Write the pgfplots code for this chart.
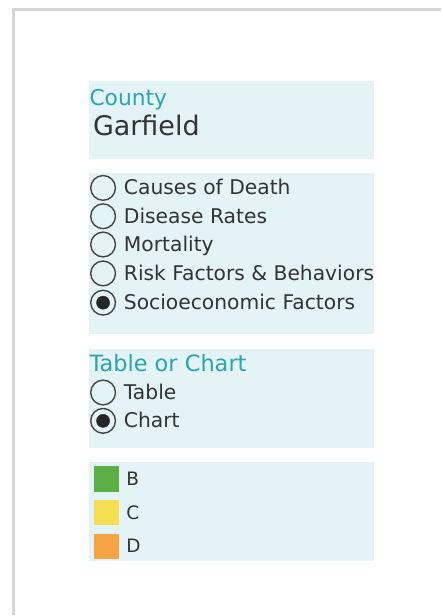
\documentclass[border=0pt]{standalone}
\usepackage{pgfplots}
\pgfplotsset{compat=1.18}
\usepackage{fontspec}
\setmainfont{DejaVu Sans}

\definecolor{panel}{HTML}{E4F3F6}
\definecolor{teal}{HTML}{2AA4B4}
\definecolor{ink}{HTML}{333333}
\definecolor{ring}{HTML}{444444}
\definecolor{frame}{HTML}{D6D6D6}
\definecolor{gB}{HTML}{5BAF45}
\definecolor{gC}{HTML}{F4DE52}
\definecolor{gD}{HTML}{F6A443}

\begin{document}
\begin{tikzpicture}
\begin{axis}[
    width=442pt, height=616pt, scale only axis,
    xmin=0, xmax=442, ymin=0, ymax=616,
    y dir=reverse,
    hide axis,
    clip=false,
]
% page box
\path (axis cs:0,0) rectangle (axis cs:442,616);

% outer frame (left and top edges visible)
\draw[frame, line width=2.5pt] (axis cs:13.3,616) -- (axis cs:13.3,9.5) -- (axis cs:442,9.5);

% panels
\addplot[fill=panel, draw=none] coordinates {(89,81.5)(375,81.5)(375,159.5)(89,159.5)} -- cycle;
\addplot[fill=panel, draw=none] coordinates {(89,173.5)(375,173.5)(375,335)(89,335)} -- cycle;
\addplot[fill=panel, draw=none] coordinates {(89,349.5)(375,349.5)(375,448.5)(89,448.5)} -- cycle;
\addplot[fill=panel, draw=none] coordinates {(89,462.5)(375,462.5)(375,562.5)(89,562.5)} -- cycle;

% county
\node[anchor=base west, text=teal, font=\fontsize{21.8}{24}\selectfont, inner sep=0pt] at (axis cs:89.5,106) {County};
\node[anchor=base west, text=ink, font=\fontsize{27}{30}\selectfont, inner sep=0pt] at (axis cs:93,136) {Garfield};

% topic radios
\addplot[only marks, color=ring, mark=o, mark size=12.4pt, mark options={line width=1.4pt}]
    coordinates {(103.3,188.3)(103.3,216.7)(103.3,245)(103.3,274)(103.3,303.3)};
\addplot[only marks, color=black!85, mark=*, mark size=6.6pt]
    coordinates {(103.3,303.3)};
\foreach \lab/\yy in {Causes of Death/195.3, Disease Rates/223.7, Mortality/252, Risk Factors \& Behaviors/281, Socioeconomic Factors/310.3}{
  \edef\tmp{\noexpand\node[anchor=base west, text=ink, font=\noexpand\fontsize{20.3}{22}\noexpand\selectfont, inner sep=0pt] at (axis cs:124,\yy) {\lab};}
  \tmp
}

% table or chart
\node[anchor=base west, text=teal, font=\fontsize{22.5}{24}\selectfont, inner sep=0pt] at (axis cs:89.5,372.3) {Table or Chart};
\addplot[only marks, color=ring, mark=o, mark size=12.4pt, mark options={line width=1.4pt}]
    coordinates {(103.3,393.3)(103.3,421.7)};
\addplot[only marks, color=black!85, mark=*, mark size=6.6pt]
    coordinates {(103.3,421.7)};
\node[anchor=base west, text=ink, font=\fontsize{20.3}{22}\selectfont, inner sep=0pt] at (axis cs:124,400.3) {Table};
\node[anchor=base west, text=ink, font=\fontsize{20.3}{22}\selectfont, inner sep=0pt] at (axis cs:124,428.7) {Chart};

% grade swatches
\addplot[only marks, color=gB, mark=square*, mark size=12.2pt] coordinates {(106.7,479.7)};
\addplot[only marks, color=gC, mark=square*, mark size=12.2pt] coordinates {(106.7,513.3)};
\addplot[only marks, color=gD, mark=square*, mark size=12.2pt] coordinates {(106.7,547.2)};
\node[anchor=base west, text=ink, font=\fontsize{18.5}{22}\selectfont, inner sep=0pt] at (axis cs:126.5,486.5) {B};
\node[anchor=base west, text=ink, font=\fontsize{18.5}{22}\selectfont, inner sep=0pt] at (axis cs:126.5,520.2) {C};
\node[anchor=base west, text=ink, font=\fontsize{18.5}{22}\selectfont, inner sep=0pt] at (axis cs:126.5,554) {D};
\end{axis}
\end{tikzpicture}
\end{document}
